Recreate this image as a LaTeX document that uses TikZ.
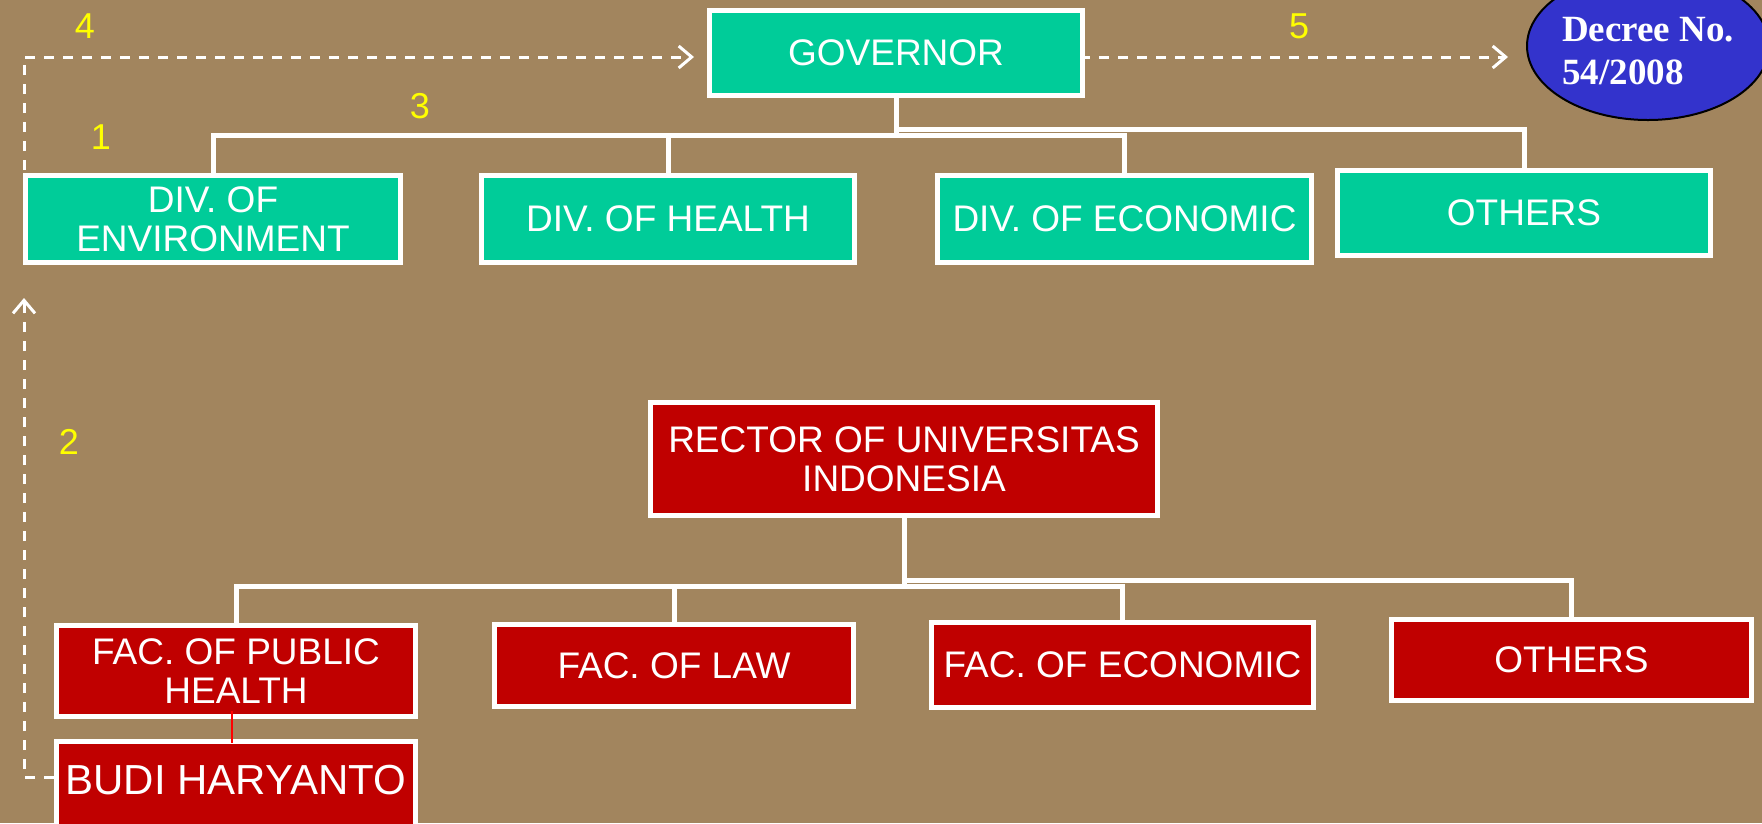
\documentclass[tikz,border=0pt]{standalone}
\usepackage{fontspec}
\setmainfont{Liberation Sans}
\newfontfamily\decreefont{Liberation Serif}
\usetikzlibrary{shapes.geometric,arrows.meta}
\definecolor{bgtan}{RGB}{162,133,94}
\definecolor{divteal}{RGB}{0,204,153}
\definecolor{facred}{RGB}{192,0,0}
\definecolor{decreeblue}{RGB}{51,51,204}
\definecolor{stepyellow}{RGB}{255,255,0}

\begin{document}
\begin{tikzpicture}[x=1pt,y=-1pt,
  unit/.style={rectangle, draw=white, line width=5pt, inner sep=0pt,
    text=white, align=center, font=\fontsize{37}{39}\selectfont},
  divbox/.style={unit, fill=divteal},
  facbox/.style={unit, fill=facred},
  tree/.style={draw=white, line width=5pt},
  flow/.style={draw=white, line width=3pt, dash pattern=on 10pt off 9pt,
    -{Straight Barb[length=13pt,width=22pt,line width=3pt]}},
  stepno/.style={text=stepyellow, font=\fontsize{36}{36}\selectfont, inner sep=0pt}]

\useasboundingbox (0,0) rectangle (1762,823);
\clip (0,0) rectangle (1762,823);
\fill[bgtan] (0,0) rectangle (1762,823);

% provincial government
\node[divbox, minimum width=373pt, minimum height=85pt] (gov) at (896,53) {GOVERNOR};
\node[divbox, minimum width=375pt, minimum height=87pt] (env) at (213,219) {DIV. OF\\ENVIRONMENT};
\node[divbox, minimum width=373pt, minimum height=87pt] (health) at (668,219) {DIV. OF HEALTH};
\node[divbox, minimum width=374pt, minimum height=87pt] (econ) at (1124.5,219) {DIV. OF ECONOMIC};
\node[divbox, minimum width=373pt, minimum height=85pt] (othersT) at (1524,213) {OTHERS};

% decree
\node[ellipse, draw=black, line width=2pt, fill=decreeblue, inner sep=0pt,
  minimum width=242pt, minimum height=148pt] (decree) at (1648,46) {};
\node[anchor=north west, inner sep=0pt, text=white, align=left,
  font=\decreefont\bfseries\fontsize{37}{43}\selectfont] (decreetext) at (1562,17) {Decree No.\\54/2008};

% university
\node[facbox, minimum width=507pt, minimum height=113pt] (rector) at (904,459) {RECTOR OF UNIVERSITAS\\INDONESIA};
\node[facbox, minimum width=359pt, minimum height=91pt] (fph) at (236,671) {FAC. OF PUBLIC\\HEALTH};
\node[facbox, minimum width=359pt, minimum height=82pt] (law) at (674,665.5) {FAC. OF LAW};
\node[facbox, minimum width=382pt, minimum height=85pt] (feco) at (1122.5,665) {FAC. OF ECONOMIC};
\node[facbox, minimum width=360pt, minimum height=81pt] (othersB) at (1571.5,660) {OTHERS};
\node[facbox, minimum width=359pt, minimum height=100pt, anchor=north] (budi) at (236,739) {};
\node[text=white, inner sep=0pt, font=\fontsize{42}{42}\selectfont] (budiname) at (236,780) {BUDI HARYANTO};

% hierarchy lines, government
\coordinate (gbarlow) at (896,135.5);
\coordinate (gbarhigh) at (896,129.5);
\draw[tree] (gov.south) -- (gov.south |- gbarlow);
\draw[tree] (env.north) -- (env.north |- gbarlow) -- (econ.north |- gbarlow) -- (econ.north);
\draw[tree] (health.north) -- (health.north |- gbarlow);
\draw[tree] (gov.south |- gbarhigh) -- (othersT.north |- gbarhigh) -- (othersT.north);

% hierarchy lines, university
\coordinate (rbarlow) at (904,586);
\coordinate (rbarhigh) at (904,580);
\draw[tree] (rector.south) -- (rector.south |- rbarlow);
\draw[tree] (fph.north) -- (fph.north |- rbarlow) -- (feco.north |- rbarlow) -- (feco.north);
\draw[tree] (law.north) -- (law.north |- rbarlow);
\draw[tree] (rector.south |- rbarhigh) -- (othersB.north |- rbarhigh) -- (othersB.north);

\draw[red, line width=2.5pt] ([xshift=-4pt,yshift=8pt]fph.south) -- ([xshift=-4pt,yshift=-4pt]budi.north);

% numbered flow
\coordinate (s2) at (54,777);
\coordinate (t2) at (24,298);
\coordinate (s4) at (24,170);
\coordinate (t4) at (694,57);
\coordinate (t5) at (1508,57);
\draw[flow] (s2) -| (t2);
\draw[flow] (s4) |- (t4);
\draw[flow] ([xshift=-5pt,yshift=-4pt]gov.east) -- (t5);

\node[stepno] (n1) at (101,137) {1};
\node[stepno] (n2) at (69,442) {2};
\node[stepno] (n3) at (420,106) {3};
\node[stepno] (n4) at (85,26) {4};
\node[stepno] (n5) at (1299,26) {5};
\end{tikzpicture}
\end{document}
